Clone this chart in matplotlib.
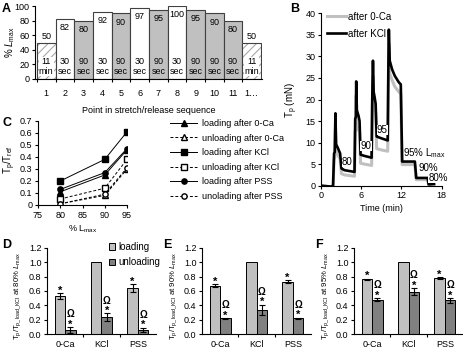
import matplotlib
matplotlib.use("Agg")
import matplotlib.pyplot as plt
from matplotlib.patches import Patch

plt.rcParams["font.family"] = ["Liberation Sans", "DejaVu Sans"]
plt.rcParams["font.size"] = 6.5
plt.rcParams["mathtext.fontset"] = "custom"
plt.rcParams["mathtext.rm"] = "Liberation Sans"
plt.rcParams["mathtext.it"] = "Liberation Sans:italic"
plt.rcParams["axes.linewidth"] = 0.8
plt.rcParams["hatch.linewidth"] = 0.8

# ---- panel A: stretch / release sequence
seq_points = ["1", "2", "3", "4", "5", "6", "7", "8", "9", "10", "11", "1…"]
seq_lmax = [50, 82, 80, 92, 90, 97, 95, 100, 95, 90, 80, 50]
seq_dur = ["11\nmin", "30\nsec", "90\nsec", "30\nsec", "90\nsec", "30\nsec",
           "90\nsec", "30\nsec", "90\nsec", "90\nsec", "90\nsec", "11\nmin"]
seq_kind = ["rest", "open", "hold", "open", "hold", "open", "hold", "open",
            "hold", "hold", "hold", "rest"]

# ---- panel B: passive tension traces (min, mN)
t_kcl = [0, 1.5, 1.8, 1.95, 2.05, 2.15, 2.25, 2.5, 2.85, 3.05, 3.5, 5.0, 5.1,
         5.2, 5.25, 5.35, 5.6, 5.75, 5.9, 6.5, 7.55, 7.65, 7.75, 7.85, 8.0,
         8.15, 8.3, 9.0, 9.95, 10.05, 10.12, 10.25, 10.6, 11.0, 11.6, 11.9,
         12.1, 13.0, 14.0, 14.2, 15.9, 16.05, 16.85]
tp_kcl = [0, -0.2, 0, 7.5, 7.8, 16.8, 9.6, 8.8, 7.5, 4.0, 3.6, 3.2, 15.5,
          16.0, 24.2, 17.5, 16.2, 15.0, 7.2, 6.9, 6.5, 21.0, 29.0, 21.8, 20.5,
          19.0, 11.4, 11.0, 10.5, 28.0, 36.2, 29.0, 27.0, 25.5, 24.0, 23.5,
          5.6, 5.6, 5.6, 1.8, 1.8, 0.3, 0.4]
t_0ca = [0, 1.5, 1.8, 1.95, 2.05, 2.15, 2.25, 2.5, 2.85, 3.05, 3.5, 5.0, 5.1,
         5.2, 5.25, 5.35, 5.6, 5.75, 5.9, 6.5, 7.55, 7.65, 7.75, 7.85, 8.0,
         8.15, 8.3, 9.0, 9.95, 10.05, 10.12, 10.25, 10.6, 11.0, 11.6, 11.9,
         12.1, 13.0, 14.0, 14.2, 15.9, 16.05, 16.85]
tp_0ca = [0, -0.3, 0, 6.0, 6.5, 13.0, 8.0, 7.2, 6.2, 2.8, 2.5, 2.2, 12.5,
          13.0, 21.0, 14.0, 13.0, 12.5, 5.2, 5.0, 4.7, 18.0, 25.5, 19.0, 18.0,
          17.0, 8.6, 8.3, 8.0, 24.0, 33.0, 26.0, 24.5, 23.0, 21.8, 21.3,
          4.9, 4.9, 4.9, 1.4, 1.4, 0.2, 0.3]

# ---- panel C: Tp/Tref vs % Lmax
c_lmax = [80, 90, 95]
load_0ca = [0.11, 0.25, 0.46]
unload_0ca = [0.01, 0.08, 0.30]
load_kcl = [0.20, 0.38, 0.61]
unload_kcl = [0.05, 0.14, 0.38]
load_pss = [0.13, 0.27, 0.47]
unload_pss = [0.01, 0.09, 0.31]

# ---- panels D-F: normalised tension at 80, 90, 95 % Lmax
groups = ["0-Ca", "KCl", "PSS"]
d_load, d_load_err = [0.53, 1.0, 0.64], [0.04, 0, 0.05]
d_unload, d_unload_err = [0.06, 0.24, 0.06], [0.04, 0.05, 0.03]
e_load, e_load_err = [0.67, 1.0, 0.73], [0.02, 0, 0.02]
e_unload, e_unload_err = [0.22, 0.34, 0.22], [0.005, 0.07, 0.01]
f_load, f_load_err = [0.76, 1.0, 0.78], [0.01, 0, 0.01]
f_unload, f_unload_err = [0.48, 0.59, 0.47], [0.02, 0.05, 0.03]

W, H = 464, 351
fig = plt.figure(figsize=(W / 100, H / 100), dpi=100)


def px_rect(l, t, r, b):
    return [l / W, 1 - b / H, (r - l) / W, (b - t) / H]


def excel_axes(ax):
    ax.spines["top"].set_visible(False)
    ax.spines["right"].set_visible(False)
    ax.tick_params(direction="out", length=2.5, width=0.8, pad=1.5, labelsize=6.5)


def ylabel_at(ax, text, x_px, y_px, size):
    # x_px / y_px: centre of the rotated label, in picture pixels
    ax.set_ylabel(text, fontsize=size, va="center")
    ax.yaxis.set_label_coords(x_px / W, 1 - y_px / H, transform=fig.transFigure)


light = "#c0c0c0"
dark = "#808080"

# ---------------- A
axA = fig.add_axes(px_rect(35, 6, 262, 79))
excel_axes(axA)
xs = list(range(1, len(seq_lmax) + 1))
for x, v, k in zip(xs, seq_lmax, seq_kind):
    if k == "rest":
        axA.bar(x, v, width=1.0, color="white", edgecolor="#a8a8a8",
                hatch="////", linewidth=0)
        axA.bar(x, v, width=1.0, color="none", edgecolor="#404040", linewidth=0.8)
    elif k == "open":
        axA.bar(x, v, width=1.0, color="white", edgecolor="#404040", linewidth=0.8)
    else:
        axA.bar(x, v, width=1.0, color=light, edgecolor="#404040", linewidth=0.8)
for x, v, d, k in zip(xs, seq_lmax, seq_dur, seq_kind):
    if k == "rest":
        axA.text(x, v + 8, str(v), ha="center", va="center", fontsize=6.5)
        axA.text(x, 17, d, ha="center", va="center", fontsize=6.5, linespacing=1.05,
                 bbox=dict(facecolor="white", edgecolor="none", pad=0.2))
    else:
        axA.text(x, v - 12, str(v), ha="center", va="center", fontsize=6.5)
        axA.text(x, 17, d, ha="center", va="center", fontsize=6.5, linespacing=1.05)
axA.set_xlim(0.4, 12.55)
axA.set_ylim(0, 100)
axA.set_yticks([0, 20, 40, 60, 80, 100])
axA.set_xticks(xs)
axA.set_xticklabels(seq_points)
axA.set_xticks([x + 0.5 for x in xs[:-1]] + [0.5], minor=True)
axA.tick_params(axis="x", which="major", length=0, pad=7)
axA.tick_params(axis="x", which="minor", length=2.5, width=0.8)
axA.set_xlabel("Point in stretch/release sequence", fontsize=6.5, labelpad=6)
ylabel_at(axA, r"% $\mathit{L}_{\rm max}$", 10, 42, 7)

# ---------------- B
axB = fig.add_axes(px_rect(321, 13.3, 441.7, 185.7))
excel_axes(axB)
axB.plot(t_0ca, tp_0ca, color=light, lw=2.2, label="after 0-Ca")
axB.plot(t_kcl, tp_kcl, color="black", lw=1.9, label="after KCl")
axB.set_xlim(0, 18)
axB.set_ylim(0, 40)
axB.set_xticks([0, 6, 12, 18])
axB.set_yticks(range(0, 41, 5))
axB.set_xlabel("Time (min)", fontsize=6.5, labelpad=3)
ylabel_at(axB, r"T$_{\rm p}$ (mN)", 292, 100, 7)
wb = dict(facecolor="white", edgecolor="none", pad=0.2)
axB.text(3.95, 5.5, "80", ha="center", va="center", fontsize=7, bbox=wb)
axB.text(6.7, 9.2, "90", ha="center", va="center", fontsize=7, bbox=wb)
axB.text(9.15, 12.9, "95", ha="center", va="center", fontsize=7, bbox=wb)
axB.text(12.25, 7.5, r"95% L$_{\rm max}$", ha="left", va="center", fontsize=7)
axB.text(14.5, 4.2, "90%", ha="left", va="center", fontsize=7)
axB.text(16.0, 1.9, "80%", ha="left", va="center", fontsize=7, bbox=wb)
axB.legend(loc="upper left", bbox_to_anchor=(0.05, 1.01), frameon=False,
           fontsize=7, handlelength=2.0, handletextpad=0.2, labelspacing=0.75,
           borderaxespad=0, borderpad=0)

# ---------------- C
axC = fig.add_axes(px_rect(38, 121, 127, 205))
excel_axes(axC)
cser = [
    (load_0ca, "-", "^", "black", "loading after 0-Ca"),
    (unload_0ca, "--", "^", "white", "unloading after 0-Ca"),
    (load_kcl, "-", "s", "black", "loading after KCl"),
    (unload_kcl, "--", "s", "white", "unloading after KCl"),
    (load_pss, "-", "o", "black", "loading after PSS"),
    (unload_pss, "--", "o", "white", "unolading after PSS"),
]
for ys, ls, mk, fc, lab in cser:
    axC.plot(c_lmax, ys, ls=ls, marker=mk, color="black", mfc=fc, mec="black",
             ms=3.8, lw=0.7, mew=1.0, dashes=(3, 2) if ls == "--" else (None, None),
             label=lab)
axC.set_xlim(75, 95)
axC.set_ylim(0, 0.7)
axC.set_xticks([75, 80, 85, 90, 95])
axC.set_yticks([0, 0.1, 0.2, 0.3, 0.4, 0.5, 0.6, 0.7])
axC.set_yticklabels(["0", "0.1", "0.2", "0.3", "0.4", "0.5", "0.6", "0.7"])
axC.set_xlabel(r"% L$_{\rm max}$", fontsize=6.5, labelpad=3)
ylabel_at(axC, r"T$_{\rm p}$/T$_{\rm ref}$", 10, 160, 7)
fig.legend(*axC.get_legend_handles_labels(), loc="upper left",
           bbox_to_anchor=(170 / W, 1 - 119 / H), frameon=False, fontsize=6.5,
           handlelength=3.0, handletextpad=0.5, labelspacing=0.62, borderaxespad=0,
           borderpad=0)


# ---------------- D, E, F
def bar_panel(rect, load, load_err, unload, unload_err, pct, lab_x):
    ax = fig.add_axes(rect)
    excel_axes(ax)
    bw = 0.29
    xs = list(range(len(groups)))
    ax.bar([x - bw / 2 for x in xs], load, width=bw, color=light, edgecolor="black",
           linewidth=0.7)
    ax.bar([x + bw / 2 for x in xs], unload, width=bw, color=dark, edgecolor="black",
           linewidth=0.7)
    for x, v, e in zip(xs, load, load_err):
        if e > 0:
            ax.errorbar(x - bw / 2, v, yerr=e, color="black", capsize=2.5, lw=0.8,
                        capthick=0.8)
            ax.text(x - bw / 2, v + e - 0.005, "*", ha="center", va="baseline",
                    fontsize=8, fontweight="bold")
    for x, v, e in zip(xs, unload, unload_err):
        ax.errorbar(x + bw / 2, v, yerr=e, color="black", capsize=2.5, lw=0.8,
                    capthick=0.8)
        ax.text(x + bw / 2, v + e - 0.005, "*", ha="center", va="baseline",
                fontsize=8, fontweight="bold")
        ax.text(x + bw / 2, v + e + 0.135, "Ω", ha="center", va="baseline",
                fontsize=7, fontweight="bold")
    ax.set_xlim(-0.5, 2.5)
    ax.set_ylim(0, 1.2)
    ax.set_yticks([0, 0.2, 0.4, 0.6, 0.8, 1.0, 1.2])
    ax.set_yticklabels(["0.0", "0.2", "0.4", "0.6", "0.8", "1.0", "1.2"])
    ax.set_xticks(xs)
    ax.set_xticklabels(groups)
    ax.set_xticks([0.5, 1.5], minor=True)
    ax.tick_params(axis="x", which="major", length=0, pad=4)
    ax.tick_params(axis="x", which="minor", length=2.5, width=0.8)
    ylabel_at(ax, r"T$_{\rm p}$/T$_{\rm p\_load\_KCl}$ at " + pct +
              r"% $\mathit{L}_{\rm max}$", lab_x, 296, 5.6)
    return ax


axD = bar_panel(px_rect(47, 247.6, 156, 334.3), d_load, d_load_err, d_unload,
                d_unload_err, "80", 18)
axE = bar_panel(px_rect(202, 247.6, 311, 334.3), e_load, e_load_err, e_unload,
                e_unload_err, "90", 174)
axF = bar_panel(px_rect(354, 247.6, 463, 334.3), f_load, f_load_err, f_unload,
                f_unload_err, "95", 326)
axD.legend(handles=[Patch(facecolor=light, edgecolor="black", lw=0.7, label="loading"),
                    Patch(facecolor=dark, edgecolor="black", lw=0.7, label="unloading")],
           loc="upper left", bbox_to_anchor=(109 / W, 1 - 242 / H),
           bbox_transform=fig.transFigure, frameon=False, fontsize=7,
           handlelength=0.6, handleheight=0.6, handletextpad=0.4, labelspacing=0.55,
           borderaxespad=0, borderpad=0)

# panel letters
for lab, x, y in [("A", 2, 3), ("B", 290, 3), ("C", 3, 117), ("D", 2, 239),
                  ("E", 163, 239), ("F", 315, 239)]:
    fig.text(x / W, 1 - y / H, lab, fontsize=9, fontweight="bold", ha="left",
             va="top")

fig.savefig("out.png", dpi=100)
